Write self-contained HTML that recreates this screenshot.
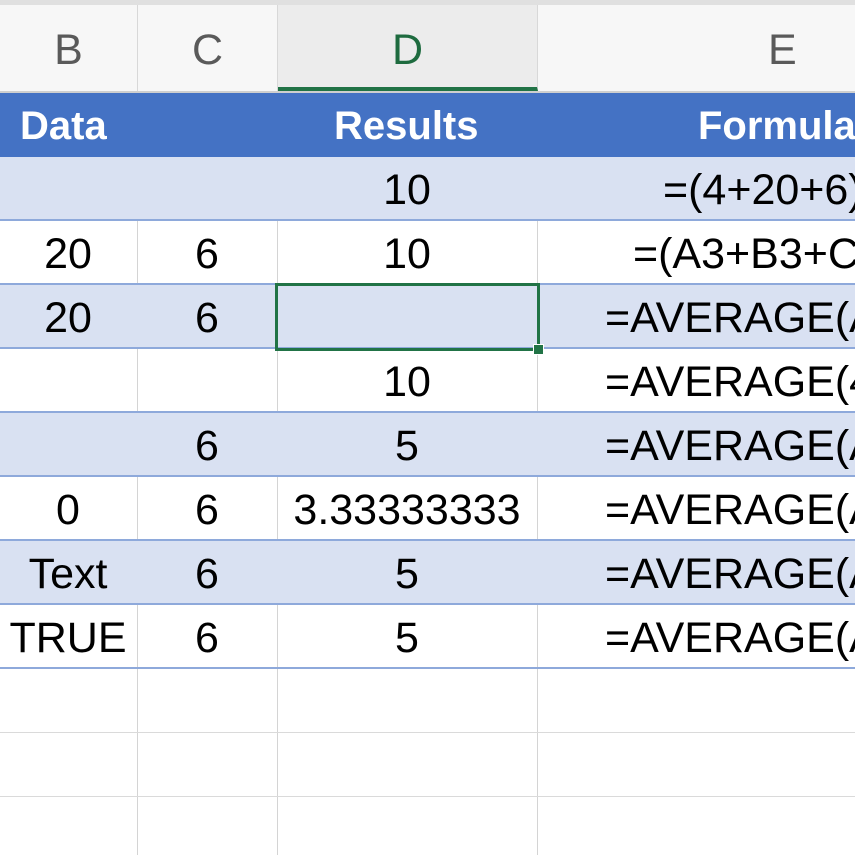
<!DOCTYPE html>
<html><head><meta charset="utf-8">
<style>
body{margin:0;width:855px;height:855px;overflow:hidden;background:#fff;font-family:"Liberation Sans",Arial,sans-serif;}
#sheet{position:relative;width:855px;height:855px;overflow:hidden;}
.abs{position:absolute;}
.hdr{top:5px;height:86px;line-height:90px;text-align:center;font-size:43px;color:#5a5a5a;background:#f7f7f7;border-right:1px solid #d8d8d8;box-sizing:border-box;}
.cell{position:absolute;height:64px;line-height:66px;font-size:43px;color:#000;white-space:nowrap;}
</style></head><body>
<div id="sheet">
  <div class="abs" style="left:0;top:0;width:855px;height:5px;background:#e0e0e0;border-bottom:1px solid #bdbdbd"></div>
  <div class="abs hdr" style="left:0;width:138px">B</div>
  <div class="abs hdr" style="left:138px;width:140px">C</div>
  <div class="abs hdr" style="left:278px;width:260px;background:#ececec;color:#1e6b3f;border-bottom:4px solid #217346">D</div>
  <div class="abs hdr" style="left:538px;width:490px;padding-right:0"><span style="position:absolute;left:230px">E</span></div>
  <div class="abs" style="left:0;top:91px;width:855px;height:2px;background:#cfcfcf"></div>
  <div class="abs" style="left:0;top:93px;width:855px;height:64px;background:#4472c4">
    <div class="cell" style="left:20px;top:0;color:#fff;font-weight:bold;font-size:40px">Data</div>
    <div class="cell" style="left:334px;top:0;color:#fff;font-weight:bold;font-size:40px">Results</div>
    <div class="cell" style="left:698px;top:0;color:#fff;font-weight:bold;font-size:40px">Formula</div>
  </div>
  <div id="rows"></div>
</div>
<script>
const colB = ["", "20", "20", "", "", "0", "Text", "TRUE", "", "", ""];
const colC = ["", "6", "6", "", "6", "6", "6", "6", "", "", ""];
const colD = ["10", "10", "", "10", "5", "3.33333333", "5", "5", "", "", ""];
const colE = ["=(4+20+6)/3", "=(A3+B3+C3)/3", "=AVERAGE(A4:C4)", "=AVERAGE(4,20,6)", "=AVERAGE(A6:C6)", "=AVERAGE(A7:C7)", "=AVERAGE(A8:C8)", "=AVERAGE(A9:C9)", "", "", ""];
const eLeft = [663, 633, 605, 605, 605, 605, 605, 605, 605, 605, 605];
const rowsEl = document.getElementById('rows');
const top0 = 157, rh = 64, tableRows = 8;
const centers = [68, 207, 407];
for (let i = 0; i < colB.length; i++) {
  const y = top0 + i * rh;
  const r = document.createElement('div');
  
  
  r.className = 'abs';
  const banded = i < tableRows && i % 2 === 0;
  r.style.cssText = `left:0;top:${y}px;width:855px;height:${rh}px;background:${banded ? '#d9e1f2' : '#fff'};`;
  if (!banded) {
    [137, 277, 537].forEach(x => {
      const v = document.createElement('div');
      
      
      v.className = 'abs';
      v.style.cssText = `left:${x}px;top:0;width:1px;height:${rh}px;background:#d4d4d4`;
      r.appendChild(v);
    });
  }
  const line = document.createElement('div');
  
  
  line.className = 'abs';
  line.style.cssText = `left:0;top:${rh - 2}px;width:855px;height:2px;background:${i < tableRows ? '#8ea9db' : '#dadada'}`;
  if (i >= tableRows) { line.style.height = '1px'; line.style.top = (rh - 1) + 'px'; }
  r.appendChild(line);
  [colB[i], colC[i], colD[i]].forEach((t, k) => {
    if (!t) return;
    const c = document.createElement('div');
    
    
    c.className = 'cell';
    c.textContent = t;
    c.style.left = (centers[k] - 150) + 'px';
    c.style.width = '300px';
    c.style.textAlign = 'center';
    c.style.top = '0px';
    r.appendChild(c);
  });
  if (colE[i]) {
    const c = document.createElement('div');
    
    
    c.className = 'cell';
    c.textContent = colE[i];
    c.style.left = eLeft[i] + 'px';
    c.style.top = '0px';
    r.appendChild(c);
  }
  rowsEl.appendChild(r);
}
const sel = document.createElement('div');


sel.className = 'abs';
sel.style.cssText = 'left:275px;top:283px;width:259px;height:62px;border:3px solid #217346;';
document.getElementById('sheet').appendChild(sel);
const h = document.createElement('div');


h.className = 'abs';
h.style.cssText = 'left:533px;top:344px;width:9px;height:9px;background:#217346;border:1px solid #fff;';
document.getElementById('sheet').appendChild(h);
</script>
</body></html>
